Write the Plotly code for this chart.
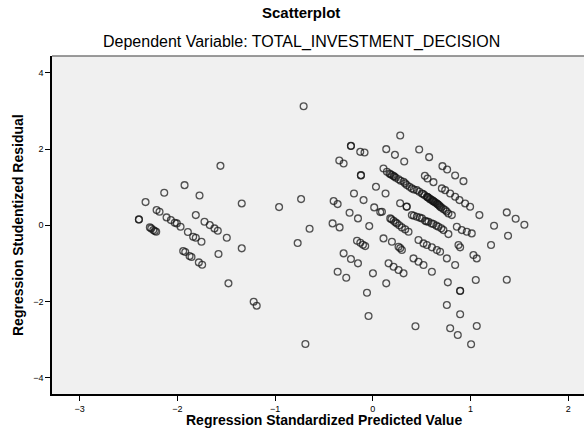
import plotly.graph_objects as go

# Left cluster
left_x = [-2.393, -2.393, -2.325, -2.281, -2.267, -2.246, -2.230, -2.216, -2.212, -2.182,
          -2.134, -2.110, -2.066, -2.026, -2.005, -1.967, -1.926, -1.940, -1.919, -1.875,
          -1.855, -1.892, -1.838, -1.811, -1.811, -1.773, -1.753, -1.780, -1.746, -1.722,
          -1.668, -1.620, -1.586, -1.579, -1.559, -1.494, -1.477, -1.341, -1.341, -1.219,
          -1.188]
left_y = [0.155, 0.150, 0.609, -0.055, -0.082, -0.126, -0.152, -0.170, 0.399, 0.355,
          0.853, 0.207, 0.136, 0.066, 0.050, -0.039, 1.054, -0.677, -0.703, -0.808,
          -0.834, -0.178, -0.301, -0.328, 0.268, 0.783, -0.433, -0.974, -1.036, 0.092,
          0.005, -0.082, -0.144, -0.755, 1.561, -0.328, -1.524, 0.574, -0.606, -2.006,
          -2.111]

# Middle points
mid_x = [-0.959, -0.734, -0.708, -0.647, -0.769, -0.690]
mid_y = [0.477, 0.687, 3.127, -0.091, -0.467, -3.116]

# Right cluster
right_x = [
    -0.343, -0.299, -0.401, -0.360, -0.412, -0.340, -0.360, -0.272,
    0.280, -0.224, -0.224, -0.129, -0.085, 0.137, 0.226, 0.321, 0.474, 0.576,
    0.712, 0.760, 0.842, 0.927, -0.122, -0.122,
    0.532, 0.559, 0.620,
    0.706, 0.740, 0.791, 0.842, 0.886, 0.944, 0.995,
    # main dense band
    0.109, 0.144, 0.170, 0.180, 0.195, 0.212, 0.220, 0.235, 0.263, 0.285, 0.314, 0.330,
    0.348, 0.375, 0.399, 0.420, 0.450, 0.475, 0.502, 0.515, 0.530, 0.553, 0.560,
    0.565, 0.580, 0.590, 0.604, 0.615, 0.620, 0.630, 0.640, 0.655, 0.660, 0.670,
    0.680, 0.688, 0.700, 0.720, 0.739, 0.755, 0.773, 0.808,
    # others
    0.032, -0.193, 0.130, -0.095, 0.014, 0.076, 0.279, 0.346, 0.346,
    -0.238, -0.152, -0.037, 1.090, 1.240,
    1.370, 1.461, 1.550, 1.383, 1.209, 1.370, 0.093,
    # band 3
    0.178, 0.190, 0.212, 0.230, 0.246, 0.270, 0.297, 0.331, 0.365,
    # band 4
    0.399, 0.420, 0.450, 0.480, 0.502, 0.535, 0.550, 0.569, 0.600, 0.620, 0.650,
    0.671, 0.700, 0.722, 0.773,
    0.859, 0.910, 0.961, 1.012,
    0.109, 0.195, 0.263, 0.280, 0.297,
    0.467, 0.518, 0.553, 0.604, 0.655, 0.688,
    0.757, 0.842, 0.876, 0.893, 1.029, 1.063,
    0.161, 0.212, 0.263, 0.314, 0.416, 0.467, 0.518, 0.604,
    -0.162, -0.128, -0.101, -0.078, -0.299, -0.224, -0.152,
    0.001, 0.137, 0.767, 0.893, 0.893, 1.053, -0.060, 0.757, 0.893,
    -0.044, 0.436, 0.791, 0.869, 1.063, 1.005,
]
right_y = [
    1.702, 1.623, 0.635, 0.556, 0.050, -0.055, -1.219, -1.377,
    2.358, 2.086, 2.080, 1.928, 1.912, 1.999, 1.850, 1.675, 1.991, 1.789,
    1.553, 1.466, 1.309, 1.159, 1.317, 1.310,
    1.298, 1.230, 1.133,
    0.968, 0.923, 0.836, 0.748, 0.661, 0.574, 0.486,
    # main dense band
    1.492, 1.405, 1.360, 1.340, 1.320, 1.291, 1.280, 1.250, 1.206, 1.170, 1.143, 1.100,
    1.055, 1.010, 0.968, 0.940, 0.923, 0.880, 0.836, 0.820, 0.790, 0.748, 0.740,
    0.730, 0.700, 0.680, 0.661, 0.640, 0.630, 0.610, 0.600, 0.574, 0.560, 0.540,
    0.520, 0.486, 0.470, 0.430, 0.399, 0.360, 0.311, 0.268,
    # others
    1.010, 0.836, 0.836, 0.661, 0.470, 0.346, 0.580, 0.490, 0.485,
    0.328, 0.181, -0.021, 0.268, -0.013,
    0.338, 0.171, 0.013, -0.275, -0.519, -1.429, 0.355,
    # band 3
    0.181, 0.160, 0.118, 0.080, 0.050, 0.000, -0.055, -0.108, -0.170,
    # band 4
    0.268, 0.250, 0.223, 0.200, 0.181, 0.118, 0.100, 0.092, 0.050, 0.031, -0.010,
    -0.039, -0.080, -0.126, -0.231,
    -0.039, -0.126, -0.170, -0.213,
    -0.344, -0.433, -0.564, -0.600, -0.650,
    -0.388, -0.475, -0.519, -0.580, -0.650, -0.695,
    -0.869, -1.044, -0.519, -0.580, -0.782, -0.869,
    -1.000, -1.088, -1.175, -1.262, -0.869, -0.957, -1.044, -1.219,
    -0.407, -0.459, -0.511, -0.546, -0.737, -0.887, -1.000,
    -1.262, -1.524, -1.498, -1.726, -1.720, -1.437, -1.770, -2.093, -2.337,
    -2.382, -2.652, -2.704, -2.880, -2.644, -3.124,
]

x_vals = left_x + mid_x + right_x
y_vals = left_y + mid_y + right_y

x_ticks = [-3, -2, -1, 0, 1, 2]
y_ticks = [-4, -2, 0, 2, 4]

title_text = "Scatterplot"
subtitle_text = "Dependent Variable: TOTAL_INVESTMENT_DECISION"
x_title = "Regression Standardized Predicted Value"
y_title = "Regression Studentized Residual"

FONT = "Liberation Sans, Arial, sans-serif"

fig = go.Figure()
fig.add_trace(go.Scatter(
    x=x_vals, y=y_vals, mode="markers",
    marker=dict(symbol="circle-open", size=6.8,
                color="rgba(20,20,20,0.72)",
                line=dict(width=1.3, color="rgba(20,20,20,0.72)")),
    showlegend=False, hoverinfo="x+y",
))

L, R, T, B = 52, 0, 56, 42
W, H = 584, 436
pw, ph = W - L - R, H - T - B

def px_to_paper(px, py):
    return (px - L) / pw, (H - B - py) / ph

annos = []
for txt, px, py, size, bold in [
    (title_text, 301, 12, 15, True),
    (subtitle_text, 301, 42, 16, False),
    (x_title, 324, 420, 14, True),
]:
    xp, yp = px_to_paper(px, py)
    annos.append(dict(text=f"<b>{txt}</b>" if bold else txt, x=xp, y=yp,
                      xref="paper", yref="paper", showarrow=False,
                      xanchor="center", yanchor="middle",
                      font=dict(family=FONT, size=size, color="#000")))
xp, yp = px_to_paper(18, 225)
annos.append(dict(text=f"<b>{y_title}</b>", x=xp, y=yp, xref="paper", yref="paper",
                  showarrow=False, textangle=-90, xanchor="center", yanchor="middle",
                  font=dict(family=FONT, size=14, color="#000")))

fig.update_layout(
    width=W, height=H,
    margin=dict(l=L, r=R, t=T, b=B, pad=0),
    paper_bgcolor="white", plot_bgcolor="#f0f0f0",
    annotations=annos,
    font=dict(family=FONT, size=9, color="#000"),
    shapes=[dict(type="line", xref="paper", yref="paper", x0=0, x1=1, y0=1, y1=1,
                 line=dict(color="#7a7a7a", width=1.5))],
)
fig.update_xaxes(range=[-3.282, 2.16], tickvals=x_ticks, ticks="outside", ticklen=5,
                 tickcolor="#000", showline=True, linecolor="#000", linewidth=1.5,
                 showgrid=False, zeroline=False, tickfont=dict(size=9, family=FONT))
fig.update_yaxes(range=[-4.43, 4.445], tickvals=y_ticks, ticks="outside", ticklen=5,
                 tickcolor="#000", showline=True, linecolor="#000", linewidth=1.5,
                 showgrid=False, zeroline=False, tickfont=dict(size=9, family=FONT))

fig.write_html("out.html", config={"displayModeBar": False},
               post_script="document.body.style.margin='0';document.body.style.overflow='hidden';")
